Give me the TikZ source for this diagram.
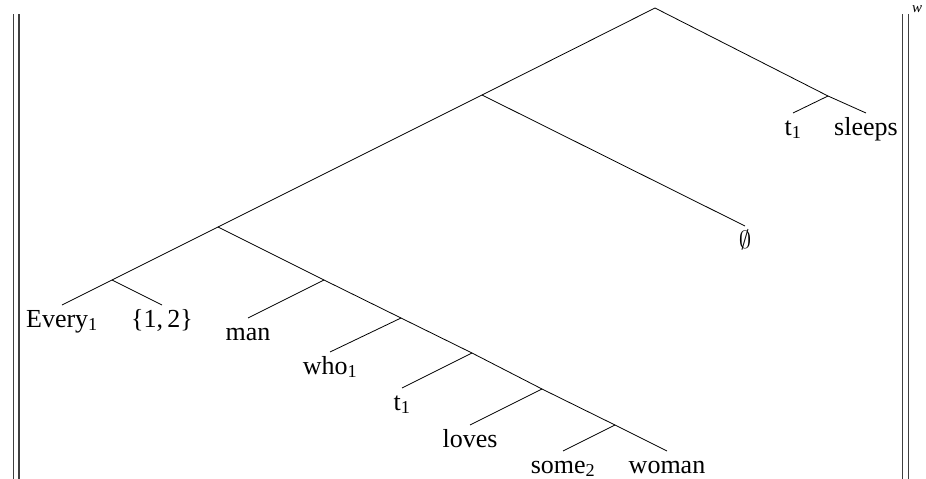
\documentclass[tikz,border=0pt]{standalone}
\usepackage{fontspec}
\setmainfont{Liberation Serif}
\newcommand{\rail}[2]{\draw[railline] (#1,14) coordinate (#2a) -- (#1,479) coordinate (#2b);}
\newcommand{\word}[3]{\node[lab] (#1) at (#2) {#3};}

\begin{document}
\begin{tikzpicture}[x=1pt,y=-1pt,
	edge/.style={line width=0.8pt},
	railline/.style={line width=1.1pt,black!75},
	lab/.style={inner sep=0pt,anchor=north,text height=22pt,text depth=6pt,
		font=\fontsize{26}{30}\selectfont}]
	\useasboundingbox (0,0) rectangle (926,479);
	% double bars
	\rail{13.5}{la}
	\rail{19}{lb}
	\rail{902.5}{ra}
	\rail{908.5}{rb}
	\node[font=\fontsize{15}{17}\selectfont\itshape] (world) at (917,9) {w};
	% inner points of the tree
	\coordinate (root) at (655,8);
	\coordinate (qr) at (482,95);
	\coordinate (dp) at (218,227);
	\coordinate (det) at (112,280);
	\coordinate (np) at (324,280);
	\coordinate (rel) at (401,318);
	\coordinate (ip) at (472,353);
	\coordinate (vp) at (542,389);
	\coordinate (obj) at (615,425);
	\coordinate (pred) at (828,96);
	% words
	\word{every}{62,305}{Every\textsubscript{1}}
	\word{idx}{162,305}{\{1,\,2\}}
	\word{man}{248,318}{man}
	\word{who}{330,352}{who\textsubscript{1}}
	\word{trace}{402,388}{t\textsubscript{1}}
	\word{loves}{470,425}{loves}
	\word{some}{563,451}{some\textsubscript{2}}
	\word{woman}{667,451}{woman}
	\word{empty}{745,226}{$\emptyset$}
	\word{subj}{793,113}{t\textsubscript{1}}
	\word{sleeps}{866,113}{sleeps}
	% branches
	\draw[edge] (root) -- (qr);
	\draw[edge] (root) -- (pred);
	\draw[edge] (qr) -- (dp);
	\draw[edge] (qr) -- (empty.north);
	\draw[edge] (dp) -- (det);
	\draw[edge] (dp) -- (np);
	\draw[edge] (det) -- (every.north);
	\draw[edge] (det) -- (idx.north);
	\draw[edge] (np) -- (man.north);
	\draw[edge] (np) -- (rel);
	\draw[edge] (rel) -- (who.north);
	\draw[edge] (rel) -- (ip);
	\draw[edge] (ip) -- (trace.north);
	\draw[edge] (ip) -- (vp);
	\draw[edge] (vp) -- (loves.north);
	\draw[edge] (vp) -- (obj);
	\draw[edge] (obj) -- (some.north);
	\draw[edge] (obj) -- (woman.north);
	\draw[edge] (pred) -- (subj.north);
	\draw[edge] (pred) -- (sleeps.north);
\end{tikzpicture}
\end{document}
